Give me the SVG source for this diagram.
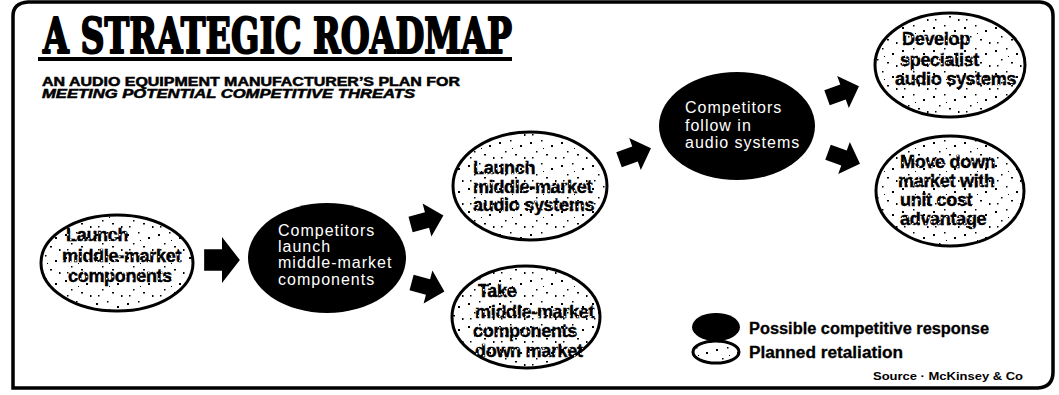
<svg xmlns="http://www.w3.org/2000/svg" width="1059" height="395" viewBox="0 0 1059 395">
  <style>
    .frame { fill: none; stroke: #000; stroke-width: 3.5; }
    .title { font-family: "DejaVu Serif", "Liberation Serif", serif; font-weight: bold; font-size: 49px; fill: #000; stroke: #000; stroke-width: 2.2; stroke-linejoin: round; }
    .sub { font-family: "Liberation Sans", Arial, sans-serif; font-weight: bold; font-size: 12.5px; fill: #000; stroke: #000; stroke-width: 0.5; }
    .plan { fill: url(#grain); stroke: #000; stroke-width: 3; }
    .resp { fill: #000; }
    .ptxt { font-family: "Liberation Sans", Arial, sans-serif; font-weight: bold; font-size: 18px; fill: url(#inkGrain); stroke: url(#inkGrain); stroke-width: 0.4; letter-spacing: -0.3px; }
    .rtxt { font-family: "Liberation Sans", Arial, sans-serif; font-size: 16px; fill: #fff; letter-spacing: 1px; }
    .leg { font-family: "Liberation Sans", Arial, sans-serif; font-weight: bold; font-size: 16px; fill: #000; stroke: #000; stroke-width: 0.3; }
    .src { font-family: "Liberation Sans", Arial, sans-serif; font-weight: bold; font-size: 11.5px; fill: #000; }
    .arrow { fill: #000; }
  </style>
  <defs>
    <!-- sparse halftone specks for the retaliation ovals -->
    <pattern id="grain" width="31" height="23" patternUnits="userSpaceOnUse">
      <rect width="31" height="23" fill="#fff"/>
      <rect x="3" y="4" width="2" height="2" fill="#000"/>
      <rect x="14" y="2" width="1.5" height="1.5" fill="#000"/>
      <rect x="24" y="7" width="2" height="2" fill="#000"/>
      <rect x="9" y="13" width="1.5" height="1.5" fill="#000"/>
      <rect x="19" y="16" width="2" height="1.5" fill="#000"/>
      <rect x="28" y="19" width="1.5" height="2" fill="#000"/>
      <rect x="5" y="19" width="1.5" height="1.5" fill="#000"/>
      <rect x="16" y="10" width="1" height="1" fill="#000"/>
    </pattern>
    <!-- broken black ink for the retaliation labels -->
    <pattern id="inkGrain" width="13" height="11" patternUnits="userSpaceOnUse">
      <rect width="13" height="11" fill="#000"/>
      <rect x="2" y="3" width="1.5" height="1.5" fill="#fff"/>
      <rect x="8" y="1" width="1.5" height="1.5" fill="#fff"/>
      <rect x="10" y="7" width="1.5" height="1.5" fill="#fff"/>
      <rect x="5" y="8" width="1.5" height="1.5" fill="#fff"/>
    </pattern>
    <!-- block arrow, pointing right, centred on its origin -->
    <path id="blockArrow" d="M-17,-8 L0,-8 L0,-17 L17,0 L0,17 L0,8 L-17,8 Z"/>
  </defs>

  <rect width="1059" height="395" fill="#fff"/>

  <!-- border -->
  <path class="frame" d="M13,388 L13,16 Q13,3 28,2 L1040,2 Q1053,3 1053,16 L1053,372 Q1053,387 1038,388 Z"/>

  <!-- heading -->
  <g id="heading">
    <text class="title" x="43" y="53" textLength="469" lengthAdjust="spacingAndGlyphs">A STRATEGIC ROADMAP</text>
    <rect x="38" y="57" width="474" height="4" fill="#000"/>
    <text class="sub" x="42" y="86" textLength="418" lengthAdjust="spacingAndGlyphs">AN AUDIO EQUIPMENT MANUFACTURER’S PLAN FOR</text>
    <text class="sub" x="42" y="98" font-style="italic" textLength="373" lengthAdjust="spacingAndGlyphs">MEETING POTENTIAL COMPETITIVE THREATS</text>
  </g>

  <!-- steps -->
  <g id="launch-components">
    <ellipse class="plan" cx="117" cy="263" rx="76" ry="48"/>
    <text class="ptxt" x="66" y="241">Launch</text>
    <text class="ptxt" x="62" y="262">middle-market</text>
    <text class="ptxt" x="68" y="282">components</text>
  </g>

  <g id="competitors-components">
    <ellipse class="resp" cx="327" cy="258" rx="79" ry="55"/>
    <text class="rtxt" x="278" y="236">Competitors</text>
    <text class="rtxt" x="278" y="252">launch</text>
    <text class="rtxt" x="278" y="268">middle-market</text>
    <text class="rtxt" x="278" y="285">components</text>
  </g>

  <g id="launch-audio">
    <ellipse class="plan" cx="530" cy="186" rx="77" ry="54"/>
    <text class="ptxt" x="473" y="174">Launch</text>
    <text class="ptxt" x="473" y="193">middle-market</text>
    <text class="ptxt" x="473" y="211">audio systems</text>
  </g>

  <g id="components-down-market">
    <ellipse class="plan" cx="526" cy="317" rx="74" ry="51"/>
    <text class="ptxt" x="478" y="297">Take</text>
    <text class="ptxt" x="475" y="318">middle-market</text>
    <text class="ptxt" x="473" y="337">components</text>
    <text class="ptxt" x="475" y="357">down market</text>
  </g>

  <g id="competitors-audio">
    <ellipse class="resp" cx="737" cy="126" rx="78" ry="54"/>
    <text class="rtxt" x="685" y="113">Competitors</text>
    <text class="rtxt" x="685" y="131">follow in</text>
    <text class="rtxt" x="685" y="148">audio systems</text>
  </g>

  <g id="specialist-audio">
    <ellipse class="plan" cx="950" cy="65" rx="75" ry="52"/>
    <text class="ptxt" x="902" y="45">Develop</text>
    <text class="ptxt" x="900" y="66">specialist</text>
    <text class="ptxt" x="895" y="85">audio systems</text>
  </g>

  <g id="move-down-market">
    <ellipse class="plan" cx="950" cy="191" rx="74" ry="55"/>
    <text class="ptxt" x="900" y="168">Move down</text>
    <text class="ptxt" x="898" y="187">market with</text>
    <text class="ptxt" x="900" y="206">unit cost</text>
    <text class="ptxt" x="900" y="225">advantage</text>
  </g>

  <!-- connectors -->
  <g id="connectors" class="arrow">
    <use href="#blockArrow" transform="translate(222,260) scale(1.05,1.35)"/>
    <use href="#blockArrow" transform="translate(427,220) rotate(-15)"/>
    <use href="#blockArrow" transform="translate(428,287) rotate(15)"/>
    <use href="#blockArrow" transform="translate(635,154) rotate(-20)"/>
    <use href="#blockArrow" transform="translate(843,92) rotate(-20)"/>
    <use href="#blockArrow" transform="translate(844,158) rotate(20)"/>
  </g>

  <!-- key -->
  <g id="legend">
    <ellipse class="resp" cx="716" cy="327" rx="24" ry="14"/>
    <text class="leg" x="749" y="334" textLength="240" lengthAdjust="spacingAndGlyphs">Possible competitive response</text>
    <ellipse class="plan" cx="716" cy="352" rx="23" ry="11" stroke-width="2.5"/>
    <text class="leg" x="749" y="358" textLength="154" lengthAdjust="spacingAndGlyphs">Planned retaliation</text>
    <text class="src" x="873" y="380" textLength="150" lengthAdjust="spacingAndGlyphs">Source · McKinsey &amp; Co</text>
  </g>
</svg>
